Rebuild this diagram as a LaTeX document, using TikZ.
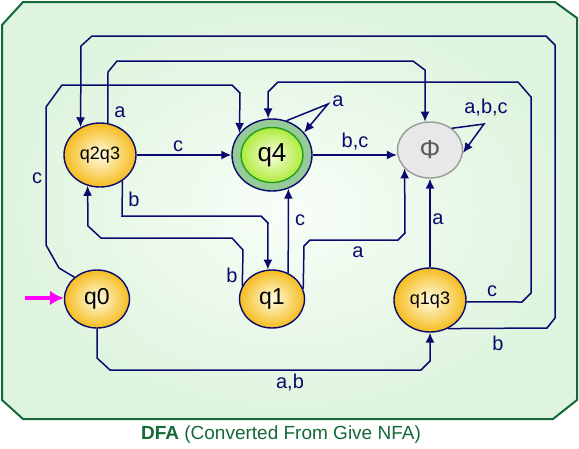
\documentclass[tikz,border=0pt]{standalone}
\usepackage{fontspec}
\setmainfont{Liberation Sans}
\usetikzlibrary{shapes.geometric,arrows.meta}
\definecolor{navy}{RGB}{10,10,110}
\definecolor{framegreen}{RGB}{20,105,55}
\definecolor{bggreen}{RGB}{222,244,222}
\definecolor{gold}{RGB}{245,188,30}
\definecolor{ringgreen}{RGB}{150,202,150}
\definecolor{leafgreen}{RGB}{30,160,30}
\definecolor{limegreen}{RGB}{175,235,60}
\definecolor{startpink}{RGB}{255,0,255}
\begin{document}
\begin{tikzpicture}[x=1pt,y=-1pt]
  \tikzstyle{State} = [ellipse, draw=navy, line width=1.4pt, inner sep=0pt, shade, inner color={rgb,255:red,255;green,252;blue,228}, outer color=gold, font=\fontsize{23}{26}\selectfont]
  \tikzstyle{Edge} = [draw=navy, line width=1.5pt, -{Latex[length=10pt,width=9pt]}]
  \tikzstyle{Label} = [text=navy, inner sep=0pt, font=\fontsize{20}{23}\selectfont]
  \useasboundingbox (0,0) rectangle (579,448);
  % frame
  \shade[draw=framegreen, line width=2pt, inner color={rgb,255:red,248;green,254;blue,248}, outer color=bggreen]
    (2,25) -- (23,2) -- (555,2) -- (577,18) -- (577,400) -- (553,419) -- (23,419) -- (2,400) -- cycle;
  \node (title) at (281,435) [text=framegreen, font=\fontsize{19}{22}\selectfont] {\textbf{DFA} (Converted From Give NFA)};
  % states
  \node (q2q3) at (100,155) [State, minimum width=72, minimum height=64, font=\fontsize{18}{21}\selectfont] {q2q3};
  \node (q4) at (272,155) [ellipse, draw=navy, line width=1.4pt, fill=ringgreen, minimum width=80, minimum height=72] {};
  \node (q4in) at (272,155) [ellipse, draw=leafgreen, line width=1.4pt, inner sep=0pt, shade, inner color={rgb,255:red,250;green,255;blue,225}, outer color=limegreen, minimum width=62, minimum height=55, font=\fontsize{26}{29}\selectfont] {q4};
  \node (phi) at (430,150) [ellipse, draw=gray!80, line width=1.4pt, fill=gray!18, inner sep=0pt, minimum width=65, minimum height=56, text=black!65, font=\fontsize{26}{29}\selectfont] {Φ};
  \node (q0) at (97,299) [State, minimum width=65, minimum height=58] {q0};
  \node (q1) at (272,299) [State, minimum width=65, minimum height=58] {q1};
  \node (q1q3) at (430,300) [State, minimum width=72, minimum height=64, font=\fontsize{18}{21}\selectfont] {q1q3};
  % start
  \coordinate (start) at (25,298);
  \draw[draw=startpink, line width=3.6pt, -{Latex[length=14pt,width=15pt]}] (start) -- (q0.west |- start);
  % transitions
  \draw[Edge] (q2q3) -- (q4);
  \draw[Edge] (q4) -- (q4 -| phi.west);
  \draw[Edge] (q4.67) -- (328,104) -- (q4.35);
  \draw[Edge] (phi.45) -- (484,124) -- (phi.-5);
  \draw[Edge] (q0.136) -- (59,268) -- (46,245) -- (46,107) -- (62,85) -- (232,85) -- (240,93) -- (q4.146);
  \draw[Edge] (q2q3.76) -- (108,72) -- (117,61) -- (413,61) -- (425,70) -- (phi.100);
  \draw[Edge] (q1q3.-58) -- (547,328) -- (555,318) -- (555,45) -- (546,36) -- (92,36) -- (81,46) -- (q2q3.125);
  \draw[Edge] (q1q3.-3) -- (522,302) -- (531,293) -- (531,97) -- (518,82) -- (278,82) -- (268,92) -- (q4.96);
  \draw[Edge] (q2q3.-49) -- (122,216) -- (261,216) -- (268,223) -- (q1.98);
  \draw[Edge] (q1.156) -- (243,250) -- (232,238) -- (101,238) -- (88,226) -- (q2q3.248);
  \draw[Edge] (q1.18) -- (304,246) -- (310,240) -- (398,240) -- (405,233) -- (phi.216);
  \draw[Edge] (q1.58) -- (q4.-64);
  \draw[Edge] (q1q3) -- (phi);
  \draw[Edge] (q0.south) -- (97,358) -- (110,370) -- (421,370) -- (430,361) -- (q1q3.south);
  % labels
  \node (l1) at (178,146) [Label] {c};
  \node (l2) at (355,142) [Label] {b,c};
  \node (l3) at (338,101) [Label] {a};
  \node (l4) at (486,108) [Label] {a,b,c};
  \node (l5) at (37,178) [Label] {c};
  \node (l6) at (120,112) [Label] {a};
  \node (l7) at (134,199) [Label] {b};
  \node (l8) at (232,275) [Label] {b};
  \node (l9) at (300,220) [Label] {c};
  \node (l10) at (358,252) [Label] {a};
  \node (l11) at (438,219) [Label] {a};
  \node (l12) at (492,291) [Label] {c};
  \node (l13) at (498,343) [Label] {b};
  \node (l14) at (290,383) [Label] {a,b};
\end{tikzpicture}
\end{document}
